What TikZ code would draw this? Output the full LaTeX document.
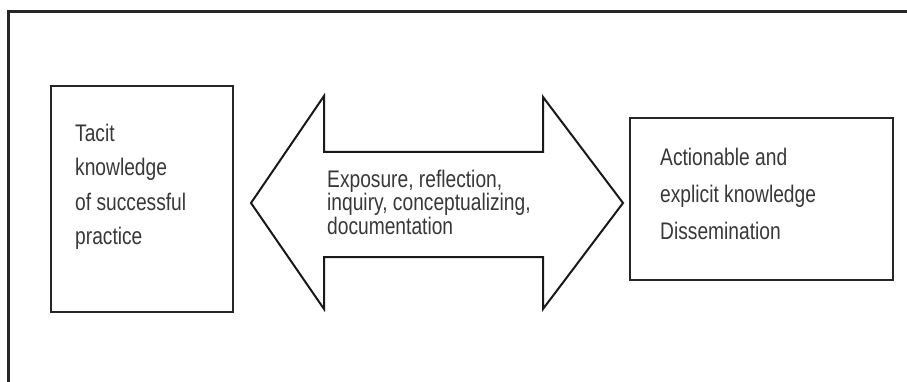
\documentclass[tikz,border=0pt]{standalone}
\usepackage{fontspec}
\setmainfont{Liberation Sans}[FakeStretch=0.8]
\begin{document}
\begin{tikzpicture}[x=1pt,y=-1pt,
  frameline/.style={line width=3pt,draw=black!85},
  boxline/.style={line width=2.4pt,draw=black!85},
  arrowline/.style={line width=2pt,draw=black!90,line join=miter},
  label/.style={inner sep=0pt,anchor=north west,align=left,text=black!78}]
\useasboundingbox (0,0) rectangle (907,382);
\coordinate (ftl) at (8.5,11.5);
\coordinate (ftr) at (907,11.5);
\coordinate (fbl) at (8.5,382);
\draw[frameline] (ftr) -- (ftl) -- (fbl);
% left box
\node[boxline,draw,minimum width=182pt,minimum height=226pt,inner sep=0pt,anchor=north west] (tacit) at (50,85) {};
\node[label,font=\fontsize{24}{34.5}\selectfont] (tacittext) at (75,123.5) {Tacit\\knowledge\\of successful\\practice};
% right box
\node[boxline,draw,minimum width=263pt,minimum height=162pt,inner sep=0pt,anchor=north west] (explicit) at (629,117) {};
\node[label,font=\fontsize{24}{37}\selectfont] (explicittext) at (660,148) {Actionable and\\explicit knowledge\\Dissemination};
% double arrow
\draw[arrowline] (251,203) -- (324,96) -- (324,152) -- (543,152) -- (543,97) -- (623,203) -- (543,309) -- (543,257) -- (324,257) -- (324,309) -- cycle;
\node[label,font=\fontsize{24}{23.5}\selectfont] (process) at (327,169.5) {Exposure, reflection,\\inquiry, conceptualizing,\\documentation};
\end{tikzpicture}
\end{document}
